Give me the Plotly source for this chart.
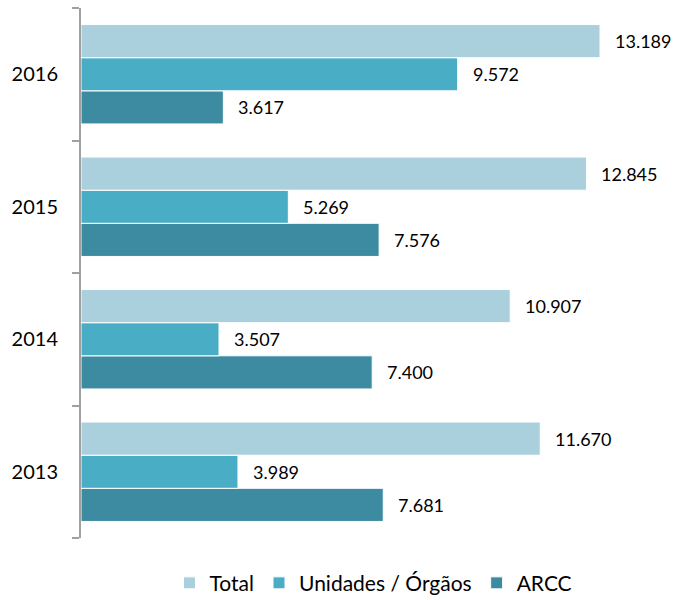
import plotly.graph_objects as go

years = ["2013", "2014", "2015", "2016"]
total = [11670, 10907, 12845, 13189]
unidades = [3989, 3507, 5269, 9572]
arcc = [7681, 7400, 7576, 3617]

# bottom-to-top order inside each year group
series = [
    ("ARCC", arcc, "#3C8BA0", 3),
    ("Unidades / Órgãos", unidades, "#4AADC6", 2),
    ("Total", total, "#AACFDD", 1),
]

BARGAP = 0.25
bar_w = (1 - BARGAP) / len(series)


def fmt(v):
    return f"{v:,}".replace(",", ".")


fig = go.Figure()
annotations = []
for k, (name, vals, color, rank) in enumerate(series):
    fig.add_trace(go.Bar(
        y=years, x=vals, name=name, orientation="h",
        marker=dict(color=color, line=dict(color="white", width=1)),
        legendrank=rank,
    ))
    offset = (k - (len(series) - 1) / 2) * bar_w
    for i, v in enumerate(vals):
        annotations.append(dict(
            x=v, y=i + offset, xref="x", yref="y",
            text=fmt(v), showarrow=False, xanchor="left", yanchor="middle",
            xshift=13, font=dict(family="Lato", size=18, color="#000000"),
        ))

fig.update_layout(
    width=678, height=600,
    margin=dict(l=81, r=0, t=8, b=62),
    barmode="group", bargap=BARGAP, bargroupgap=0,
    plot_bgcolor="white", paper_bgcolor="white",
    font=dict(family="Lato", color="#000000"),
    annotations=annotations,
    legend=dict(orientation="h", x=0.49, xanchor="center",
                yref="container", y=0.028, yanchor="middle",
                font=dict(size=21), itemwidth=30),
    xaxis=dict(range=[0, 15171], visible=False, showgrid=False, zeroline=False),
    yaxis=dict(
        type="category", range=[-0.5, 3.5], tickson="boundaries",
        ticks="outside", ticklen=7, tickcolor="#A0A0A0", tickwidth=2,
        showline=True, linecolor="#A0A0A0", linewidth=2,
        tickfont=dict(size=20, color="#000000"), ticklabelstandoff=17,
        showgrid=False, zeroline=False,
    ),
)

fig.write_html("out.html")
